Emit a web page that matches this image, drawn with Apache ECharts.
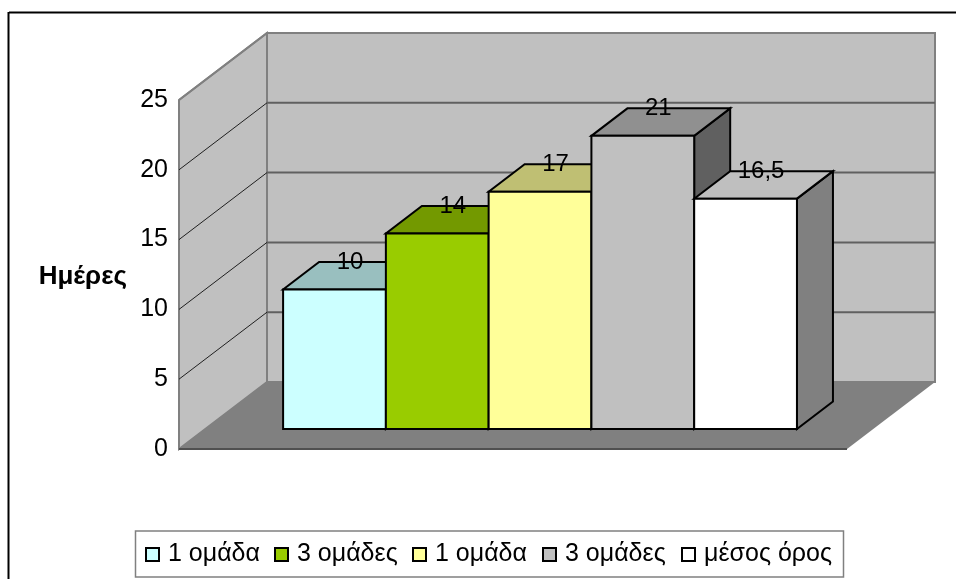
<!DOCTYPE html>
<html>
<head>
<meta charset="utf-8">
<style>
  html, body { margin: 0; padding: 0; background: #fff; }
  #chart { width: 956px; height: 579px; }
</style>
<script src="https://cdn.jsdelivr.net/npm/echarts@6/dist/echarts.min.js"></script>
</head>
<body>
<div id="chart"></div>
<script>
// Group labels and the number of days for each column
const groupNames = ['1 ομάδα', '3 ομάδες', '1 ομάδα', '3 ομάδες', 'μέσος όρος'];
const dayValues = [10, 14, 17, 21, 16.5];
const valueLabels = ['10', '14', '17', '21', '16,5'];
const yTicks = [0, 5, 10, 15, 20, 25];
const yAxisTitle = 'Ημέρες';

// Face colours of each column: front, top, side
const frontColors = ['#CCFFFF', '#99CC00', '#FFFF99', '#C0C0C0', '#FFFFFF'];
const topColors = ['#99BFBF', '#739900', '#BFBF73', '#909090', '#BFBFBF'];
const sideColors = ['#668080', '#4D6600', '#808050', '#606060', '#808080'];

// Left edge of each legend entry
const legendLefts = [145, 274, 412, 542, 681];

// Oblique projection used for the pseudo-3D box, in pixels
const WALL_SHIFT = [88, -67];
const COLUMN_SHIFT = [26, -20];
const COLUMN_DEPTH = [36, -27.5];
const X_MIN = -0.76;
const X_MAX = 5.74;
const FONT = '"Liberation Sans", Arial, sans-serif';
const EDGE = { stroke: '#000', lineWidth: 2, lineJoin: 'miter' };

const shifted = (p, s) => [p[0] + s[0], p[1] + s[1]];
const poly = (points, style) => ({ type: 'polygon', shape: { points }, style });
const segment = (a, b, stroke, lineWidth) => ({
  type: 'line',
  shape: { x1: a[0], y1: a[1], x2: b[0], y2: b[1] },
  style: { stroke, lineWidth }
});

// Side wall, back wall and floor
function renderBox(params, api) {
  const fl = api.coord([X_MIN, 0]);
  const fr = api.coord([X_MAX, 0]);
  const tl = api.coord([X_MIN, 25]);
  const bl = shifted(fl, WALL_SHIFT);
  const br = shifted(fr, WALL_SHIFT);
  const ul = shifted(tl, WALL_SHIFT);
  const ur = [br[0], ul[1]];
  return {
    type: 'group',
    children: [
      poly([ul, ur, br, bl], { fill: '#C0C0C0', stroke: '#808080', lineWidth: 2 }),
      poly([tl, ul, bl, fl], { fill: '#C0C0C0', stroke: '#808080', lineWidth: 2 }),
      poly([fl, fr, br, bl], { fill: '#808080' }),
      segment(fl, fr, '#505050', 2)
    ]
  };
}

// One gridline per tick, across the side wall and along the back wall
function renderGridline(params, api) {
  const v = api.value(0);
  if (v === 0) return null;
  const front = api.coord([X_MIN, v]);
  const back = shifted(front, WALL_SHIFT);
  const end = [shifted(api.coord([X_MAX, v]), WALL_SHIFT)[0], back[1]];
  if (v === 25) {
    return { type: 'group', children: [segment(front, back, '#808080', 2)] };
  }
  return {
    type: 'group',
    children: [segment(front, back, '#202020', 1), segment(back, end, '#606060', 2)]
  };
}

// A column with front, top and side faces, plus its value label
function renderColumn(params, api) {
  const slot = api.value(0);
  const v = api.value(1);
  const i = params.seriesIndex - 2;
  const a = shifted(api.coord([slot, 0]), COLUMN_SHIFT);
  const b = shifted(api.coord([slot + 1, 0]), COLUMN_SHIFT);
  const c = shifted(api.coord([slot + 1, v]), COLUMN_SHIFT);
  const d = shifted(api.coord([slot, v]), COLUMN_SHIFT);
  const c2 = shifted(c, COLUMN_DEPTH);
  const d2 = shifted(d, COLUMN_DEPTH);
  const b2 = shifted(b, COLUMN_DEPTH);
  return {
    type: 'group',
    children: [
      poly([b, c, c2, b2], Object.assign({ fill: sideColors[i] }, EDGE)),
      poly([d, c, c2, d2], Object.assign({ fill: topColors[i] }, EDGE)),
      poly([a, b, c, d], Object.assign({ fill: frontColors[i] }, EDGE)),
      {
        type: 'text',
        z2: 10,
        style: {
          x: (d[0] + c[0]) / 2 + 15.5,
          y: d2[1],
          text: valueLabels[i],
          fill: '#000',
          font: '24px ' + FONT,
          align: 'center',
          verticalAlign: 'middle'
        }
      }
    ]
  };
}

const columnSeries = groupNames.map((name, i) => ({
  name,
  type: 'custom',
  coordinateSystem: 'cartesian2d',
  renderItem: renderColumn,
  clip: false,
  encode: { x: 0, y: 1 },
  data: [[i, dayValues[i]]]
}));

// Two pairs of entries share a name, so each entry gets its own legend
const legends = groupNames.map((name, i) => ({
  left: legendLefts[i],
  top: 542,
  padding: 0,
  orient: 'horizontal',
  data: [{
    name,
    itemStyle: { color: frontColors[i], borderColor: '#000', borderWidth: 2 }
  }],
  itemWidth: 13,
  itemHeight: 13,
  icon: 'rect',
  selectedMode: false,
  textStyle: { color: '#000', fontSize: 25, fontFamily: FONT, padding: [0, 0, 0, 4] }
}));

const chart = echarts.init(document.getElementById('chart'), null, { renderer: 'canvas' });
chart.setOption({
  animation: false,
  backgroundColor: '#fff',
  textStyle: { fontFamily: FONT },
  grid: { left: 179, right: 109, top: 100, bottom: 130 },
  xAxis: { type: 'value', min: X_MIN, max: X_MAX, show: false },
  yAxis: {
    type: 'value',
    min: 0,
    max: 25,
    interval: 5,
    axisLine: { show: true, lineStyle: { color: '#505050', width: 2 } },
    axisTick: { show: true, length: 6, lineStyle: { color: '#808080', width: 2 } },
    axisLabel: { color: '#000', fontSize: 25, margin: 11, padding: [4, 0, 0, 0], showMaxLabel: true, showMinLabel: true },
    splitLine: { show: false }
  },
  legend: legends,
  graphic: [
    { type: 'line', silent: true, shape: { x1: 9, y1: 12.5, x2: 956, y2: 12.5 }, style: { stroke: '#000', lineWidth: 2 } },
    { type: 'line', silent: true, shape: { x1: 8.5, y1: 12, x2: 8.5, y2: 579 }, style: { stroke: '#000', lineWidth: 2 } },
    { type: 'rect', silent: true, z: -1, shape: { x: 135.5, y: 531, width: 708, height: 46 }, style: { fill: '#fff', stroke: '#808080', lineWidth: 1.5 } },
    {
      type: 'text',
      silent: true,
      x: 127,
      y: 277,
      style: {
        text: yAxisTitle,
        fill: '#000',
        font: 'bold 26px ' + FONT,
        align: 'right',
        verticalAlign: 'middle'
      }
    }
  ],
  series: [
    { type: 'custom', name: 'box', renderItem: renderBox, clip: false, data: [[0, 0]], encode: { x: 0, y: 1 }, silent: true },
    { type: 'custom', name: 'grid', renderItem: renderGridline, clip: false, data: yTicks.map(t => [t]), encode: { y: 0 }, silent: true }
  ].concat(columnSeries)
});
</script>
</body>
</html>
